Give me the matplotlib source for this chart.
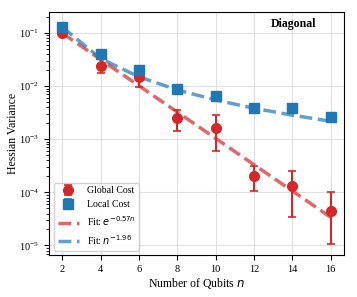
import numpy as np
import matplotlib
matplotlib.use("Agg")
import matplotlib.pyplot as plt
from matplotlib.ticker import LogLocator, NullFormatter

plt.rcParams['font.family'] = ['Liberation Serif', 'DejaVu Serif']
plt.rcParams['mathtext.fontset'] = 'dejavusans'

# data
n_qubits = [2, 4, 6, 8, 10, 12, 14, 16]
global_mean = [0.100, 0.024, 0.0148, 0.0025, 0.0016, 2.0e-4, 1.3e-4, 4.4e-5]
global_lo = [0.088, 0.018, 0.0095, 0.0014, 0.0006, 1.05e-4, 3.4e-5, 1.05e-5]
global_hi = [0.112, 0.032, 0.022, 0.0035, 0.0028, 3.1e-4, 2.5e-4, 1.0e-4]
local_mean = [0.13, 0.040, 0.020, 0.0087, 0.0064, 0.0038, 0.0039, 0.0026]
local_lo = [0.118, 0.036, 0.0175, 0.0075, 0.0056, 0.0033, 0.0034, 0.0022]
local_hi = [0.142, 0.044, 0.0225, 0.0099, 0.0072, 0.0043, 0.0044, 0.0030]

# fit parameters (amplitude, exponent)
global_fit_amp, global_fit_rate = 0.31, 0.57
local_fit_amp, local_fit_exp = 0.50, 1.96

red = '#d62728'
blue = '#1f77b4'

n = np.array(n_qubits)
g = np.array(global_mean)
l = np.array(local_mean)
g_err = [g - np.array(global_lo), np.array(global_hi) - g]
l_err = [l - np.array(local_lo), np.array(local_hi) - l]

fig, ax = plt.subplots(figsize=(3.57, 2.97), dpi=100)

h1 = ax.errorbar(n, g, yerr=g_err, fmt='o', color=red, ms=7, capsize=3,
                 elinewidth=1.5, capthick=1.2, label='Global Cost', zorder=3)
h2 = ax.errorbar(n, l, yerr=l_err, fmt='s', color=blue, ms=7.5, capsize=3,
                 elinewidth=1.5, capthick=1.2, label='Local Cost', zorder=3)

h3, = ax.plot(n, global_fit_amp * np.exp(-global_fit_rate * n), '--', color=red,
              alpha=0.7, lw=2.5, label=r'Fit: $e^{-%.2fn}$' % global_fit_rate, zorder=2)
h4, = ax.plot(n, local_fit_amp * n ** (-local_fit_exp), '--', color=blue,
              alpha=0.7, lw=2.5, label=r'Fit: $n^{-%.2f}$' % local_fit_exp, zorder=2)

ax.set_yscale('log')
ax.set_xlim(1.3, 16.7)
ax.set_ylim(6.5e-6, 0.25)
ax.set_xticks(n_qubits)
ax.yaxis.set_minor_locator(LogLocator(base=10, subs=np.arange(2, 10), numticks=20))
ax.yaxis.set_minor_formatter(NullFormatter())
ax.tick_params(labelsize=7.5)
ax.tick_params(which='minor', length=2)
ax.grid(True, color='#e0e0e0', lw=0.8)
ax.set_axisbelow(True)

ax.set_xlabel('Number of Qubits $n$', fontsize=8.5, labelpad=1)
ax.set_ylabel('Hessian Variance', fontsize=8.5, labelpad=0)
ax.text(0.83, 0.95, 'Diagonal', transform=ax.transAxes, ha='center', va='center',
        fontsize=8.5, fontweight='bold')

ax.legend(handles=[h1, h2, h3, h4], loc='lower left', fontsize=7,
          framealpha=0.9, handlelength=2.2)

plt.subplots_adjust(left=0.137, right=0.964, top=0.96, bottom=0.14)
plt.savefig('out.png', dpi=100)
